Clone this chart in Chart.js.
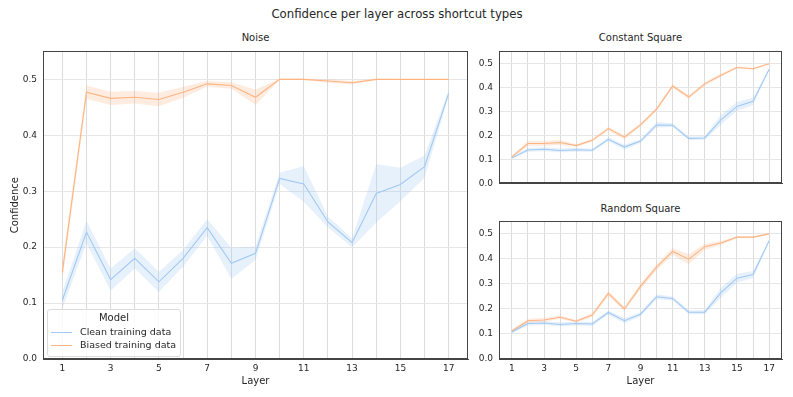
<!DOCTYPE html>
<html>
<head>
<meta charset="utf-8">
<script src="https://cdn.jsdelivr.net/npm/chart.js@4.4.0/dist/chart.umd.min.js"></script>
<style>
  body { margin: 0; background: #fff; font-family: 'DejaVu Sans', sans-serif; color: #262626; }
  #wrap { position: relative; width: 793px; height: 397px; overflow: hidden; }
  canvas { position: absolute; }
  .txt { position: absolute; white-space: nowrap; transform: translate(-50%, -50%); }
  #legend { position: absolute; left: 47px; top: 309px; width: 132px; height: 46px; border: 1px solid #dcdcdc; border-radius: 3px; background: rgba(255,255,255,0.85); font-size: 9.5px; }
  #legend .ttl { position: absolute; left: 0; right: 0; top: 2px; text-align: center; font-size: 10px; }
  #legend .row { position: absolute; left: 3px; height: 12px; line-height: 12px; }
  #legend .sw { display: inline-block; width: 21px; vertical-align: middle; margin-right: 8px; border-top: 1.2px solid; }
</style>
</head>
<body>
<div id="wrap">
  <div class="txt" style="left:397px; top:14px; font-size:11.7px;">Confidence per layer across shortcut types</div>
  <div class="txt" style="left:255.5px; top:37px; font-size:10px;">Noise</div>
  <div class="txt" style="left:640.5px; top:37px; font-size:10px;">Constant Square</div>
  <div class="txt" style="left:640.5px; top:208px; font-size:10px;">Random Square</div>
  <canvas id="cNoise" width="475" height="357" style="left:0; top:40px;"></canvas>
  <canvas id="cConst" width="318" height="155" style="left:475px; top:40px;"></canvas>
  <canvas id="cRand" width="318" height="187" style="left:475px; top:210px;"></canvas>
  <div id="legend">
    <div class="ttl">Model</div>
    <div class="row" style="top:16px;"><span class="sw" style="border-color:#a1c9f4;"></span>Clean training data</div>
    <div class="row" style="top:29px;"><span class="sw" style="border-color:#ffb482;"></span>Biased training data</div>
  </div>
</div>
<script>
// layers on the x axis
const layers = [1, 2, 3, 4, 5, 6, 7, 8, 9, 10, 11, 12, 13, 14, 15, 16, 17];
const yTicks = [0, 0.1, 0.2, 0.3, 0.4, 0.5];

// Noise
const noiseClean = [0.105, 0.227, 0.142, 0.180, 0.138, 0.180, 0.235, 0.171, 0.189, 0.323, 0.313, 0.245, 0.208, 0.296, 0.312, 0.344, 0.475];
const noiseCleanErr = [0.015, 0.02, 0.02, 0.018, 0.018, 0.015, 0.015, 0.028, 0.012, 0.01, 0.032, 0.01, 0.008, 0.052, 0.03, 0.02, 0.006];
const noiseBiased = [0.155, 0.477, 0.466, 0.468, 0.464, 0.477, 0.492, 0.489, 0.468, 0.5, 0.5, 0.497, 0.494, 0.5, 0.5, 0.5, 0.5];
const noiseBiasedErr = [0.015, 0.012, 0.012, 0.011, 0.012, 0.01, 0.005, 0.006, 0.014, 0.001, 0.001, 0.003, 0.003, 0.001, 0, 0, 0];

// Constant Square
const constClean = [0.107, 0.140, 0.143, 0.138, 0.141, 0.139, 0.184, 0.152, 0.177, 0.244, 0.243, 0.188, 0.190, 0.265, 0.321, 0.342, 0.476];
const constCleanErr = [0.006, 0.008, 0.008, 0.008, 0.008, 0.006, 0.008, 0.01, 0.008, 0.012, 0.008, 0.008, 0.008, 0.02, 0.018, 0.016, 0.004];
const constBiased = [0.111, 0.167, 0.167, 0.171, 0.158, 0.180, 0.229, 0.193, 0.244, 0.310, 0.406, 0.360, 0.415, 0.451, 0.483, 0.478, 0.499];
const constBiasedErr = [0.006, 0.01, 0.01, 0.01, 0.006, 0.006, 0.008, 0.008, 0.008, 0.008, 0.008, 0.008, 0.008, 0.006, 0.004, 0.004, 0.002];

// Random Square
const randClean = [0.108, 0.142, 0.144, 0.138, 0.142, 0.140, 0.186, 0.153, 0.179, 0.249, 0.242, 0.187, 0.187, 0.265, 0.323, 0.338, 0.473];
const randCleanErr = [0.006, 0.008, 0.008, 0.008, 0.008, 0.008, 0.008, 0.01, 0.008, 0.01, 0.008, 0.008, 0.008, 0.02, 0.018, 0.014, 0.004];
const randBiased = [0.112, 0.153, 0.156, 0.167, 0.151, 0.176, 0.262, 0.200, 0.290, 0.367, 0.430, 0.399, 0.449, 0.464, 0.487, 0.487, 0.500];
const randBiasedErr = [0.006, 0.008, 0.008, 0.006, 0.006, 0.008, 0.01, 0.008, 0.012, 0.012, 0.014, 0.02, 0.012, 0.008, 0.004, 0.004, 0.002];

const blue = '#a1c9f4';
const orange = '#ffb482';

Chart.defaults.font.family = "'DejaVu Sans', sans-serif";
Chart.defaults.color = '#262626';

// box round the plot (top and right spines)
const spines = {
    id: 'spines',
    afterDraw(chart) {
        const a = chart.chartArea;
        const ctx = chart.ctx;
        ctx.save();
        ctx.strokeStyle = '#444';
        ctx.lineWidth = 1;
        ctx.strokeRect(Math.round(a.left) + 0.5, Math.round(a.top) + 0.5, Math.round(a.right - a.left) - 1, Math.round(a.bottom - a.top) - 1);
        ctx.restore();
    }
};

function pts(vals) {
    return layers.map((l, i) => ({ x: l, y: vals[i] }));
}

function bandSets(vals, err, color, fillColor) {
    return [
        { data: pts(vals.map((v, i) => v - err[i])), borderWidth: 0, borderColor: 'transparent', pointRadius: 0, fill: false, order: 2 },
        { data: pts(vals.map((v, i) => v + err[i])), borderWidth: 0, borderColor: 'transparent', pointRadius: 0, fill: '-1', backgroundColor: fillColor, order: 2 },
        { data: pts(vals), borderColor: color, borderWidth: 1.1, pointRadius: 0, fill: false, order: 0 }
    ];
}

function makePanel(id, clean, cleanErr, biased, biasedErr, cfg) {
    const ctx = document.getElementById(id).getContext('2d');
    return new Chart(ctx, {
        type: 'line',
        data: {
            datasets: [
                ...bandSets(clean, cleanErr, blue, 'rgba(161,201,244,0.25)'),
                ...bandSets(biased, biasedErr, orange, 'rgba(255,180,130,0.25)')
            ]
        },
        options: {
            responsive: false,
            animation: false,
            layout: { padding: { top: cfg.padTop, left: 0, right: cfg.padRight, bottom: 0 } },
            plugins: { legend: { display: false }, tooltip: { enabled: false } },
            scales: {
                x: {
                    type: 'linear',
                    min: 0.2,
                    max: 17.8,
                    afterBuildTicks: (s) => { s.ticks = layers.map(v => ({ value: v })); },
                    afterFit: (s) => { s.height = cfg.xHeight; },
                    grid: { color: '#dcdcdc', lineWidth: 1, drawTicks: false },
                    border: { color: '#444', width: 1 },
                    ticks: {
                        display: cfg.showX,
                        padding: 4,
                        maxRotation: 0,
                        autoSkip: false,
                        font: { size: 9 },
                        callback: (v) => (v % 2 === 1 ? String(v) : '')
                    },
                    title: { display: cfg.showX, text: 'Layer', font: { size: 10 }, padding: { top: 0, bottom: 10 } }
                },
                y: {
                    min: 0,
                    max: 0.55,
                    afterBuildTicks: (s) => { s.ticks = yTicks.map(v => ({ value: v })); },
                    afterFit: (s) => { s.width = cfg.yWidth; },
                    grid: { color: '#e6e6e6', lineWidth: 1, drawTicks: false },
                    border: { color: '#444', width: 1 },
                    ticks: { padding: 6, font: { size: 9 }, callback: (v) => v.toFixed(1) },
                    title: { display: cfg.yTitle, text: 'Confidence', font: { size: 10 }, padding: { top: 9, bottom: 0 } }
                }
            }
        },
        plugins: [spines]
    });
}

makePanel('cNoise', noiseClean, noiseCleanErr, noiseBiased, noiseBiasedErr,
    { padTop: 4, padRight: 7, xHeight: 38, yWidth: 43, showX: true, yTitle: true });
makePanel('cConst', constClean, constCleanErr, constBiased, constBiasedErr,
    { padTop: 5, padRight: 11, xHeight: 7, yWidth: 24, showX: false, yTitle: false });
makePanel('cRand', randClean, randCleanErr, randBiased, randBiasedErr,
    { padTop: 6, padRight: 11, xHeight: 38, yWidth: 24, showX: true, yTitle: false });
</script>
</body>
</html>
